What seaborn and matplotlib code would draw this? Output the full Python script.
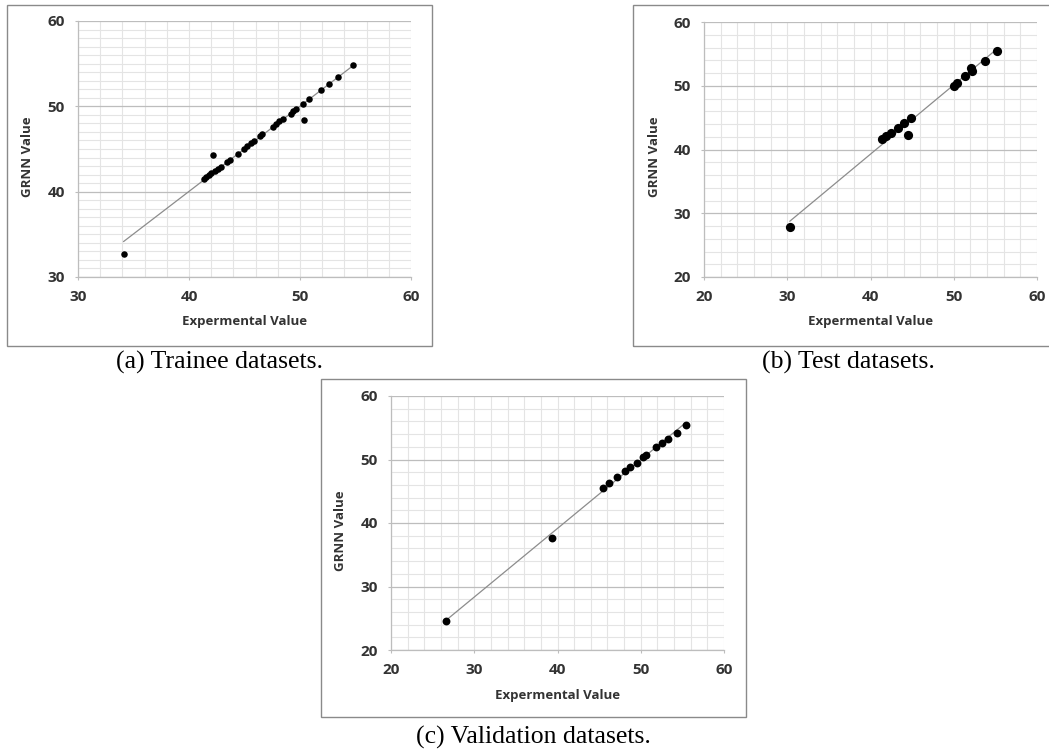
import numpy as np
import pandas as pd
import seaborn as sns
import matplotlib.pyplot as plt
from matplotlib.ticker import MultipleLocator
from matplotlib.patches import Rectangle

# values
train_exp = [34.1, 41.35, 41.53, 41.78, 42.0, 42.2, 42.37, 42.6, 42.86, 43.45, 43.7,
             44.4, 44.95, 45.2, 45.6, 45.86, 46.4, 46.6, 47.54, 47.84, 48.14, 48.44,
             49.2, 49.4, 49.6, 50.3, 50.33, 50.8, 51.9, 52.6, 53.4, 54.75]
train_grnn = [32.7, 41.5, 41.7, 41.95, 42.2, 44.26, 42.4, 42.65, 42.85, 43.5, 43.7,
              44.45, 45.0, 45.3, 45.66, 45.9, 46.5, 46.7, 47.6, 47.9, 48.25, 48.5,
              49.1, 49.4, 49.65, 50.3, 48.4, 50.9, 51.9, 52.6, 53.4, 54.8]

test_exp = [30.3, 41.4, 41.9, 42.5, 43.3, 44.06, 44.5, 44.9, 50.0, 50.4, 51.4, 52.1, 52.2, 53.8, 55.2]
test_grnn = [27.8, 41.7, 42.1, 42.6, 43.4, 44.1, 42.3, 44.9, 50.0, 50.5, 51.6, 52.8, 52.3, 53.9, 55.5]

val_exp = [26.6, 39.3, 45.5, 46.2, 47.2, 48.1, 48.7, 49.55, 50.3, 50.6, 51.8, 52.5, 53.3, 54.4, 55.4]
val_grnn = [24.6, 37.6, 45.5, 46.25, 47.3, 48.2, 48.8, 49.5, 50.4, 50.7, 51.9, 52.6, 53.3, 54.2, 55.5]

captions = ["(a) Trainee datasets.", "(b) Test datasets.", "(c) Validation datasets."]
x_label = "Expermental Value"
y_label = "GRNN Value"

sns.set_style("white")
plt.rcParams['font.family'] = ['Open Sans', 'DejaVu Sans']

W, H = 1049, 751
fig = plt.figure(figsize=(W / 100, H / 100), dpi=100)


def px_rect(x0, y0, x1, y1):
    # pixel box (top-left origin) -> figure fraction [left, bottom, width, height]
    return [x0 / W, 1 - y1 / H, (x1 - x0) / W, (y1 - y0) / H]


panels = [
    dict(x=train_exp, y=train_grnn, ax=(78, 21, 411, 277), lim=(30, 60), ymin=1, s=22,
         box=(7, 5, 432, 346), cap=(220, 369)),
    dict(x=test_exp, y=test_grnn, ax=(704, 22, 1037, 277), lim=(20, 60), ymin=2, s=44,
         box=(633, 5, 1065, 346), cap=(848, 369)),
    dict(x=val_exp, y=val_grnn, ax=(391, 396, 724, 650), lim=(20, 60), ymin=2, s=32,
         box=(321, 379, 746, 717), cap=(533, 744)),
]

for p, cap in zip(panels, captions):
    # frame around each chart, like the pasted Excel objects
    bx = px_rect(*p['box'])
    fig.add_artist(Rectangle((bx[0], bx[1]), bx[2], bx[3], transform=fig.transFigure,
                             fill=False, edgecolor='#8a8a8a', lw=1.0))

    ax = fig.add_axes(px_rect(*p['ax']))
    df = pd.DataFrame({'exp': p['x'], 'grnn': p['y']})
    sns.regplot(data=df, x='exp', y='grnn', ax=ax, ci=None, truncate=True,
                scatter_kws=dict(s=p['s'], color='black', alpha=1, linewidths=0, zorder=3),
                line_kws=dict(color='#8c8c8c', lw=0.9, zorder=2))

    lo, hi = p['lim']
    ax.set_xlim(lo, hi)
    ax.set_ylim(lo, hi)
    ax.xaxis.set_major_locator(MultipleLocator(10))
    ax.yaxis.set_major_locator(MultipleLocator(10))
    ax.xaxis.set_minor_locator(MultipleLocator(2))
    ax.yaxis.set_minor_locator(MultipleLocator(p['ymin']))

    ax.grid(which='minor', color='#e4e4e4', lw=0.8)
    ax.grid(which='major', axis='x', color='#e4e4e4', lw=0.8)
    ax.grid(which='major', axis='y', color='#bdbdbd', lw=0.9)
    ax.set_axisbelow(True)

    for side in ['top', 'right']:
        ax.spines[side].set_visible(False)
    for side in ['left', 'bottom']:
        ax.spines[side].set_color('#bdbdbd')
        ax.spines[side].set_linewidth(0.9)

    ax.tick_params(which='major', length=2.5, width=0.8, color='#bdbdbd', pad=7,
                   labelsize=11, labelcolor='#333333', bottom=True, left=True)
    ax.tick_params(which='minor', length=0)
    for t in ax.get_xticklabels() + ax.get_yticklabels():
        t.set_fontweight('bold')

    ax.set_xlabel(x_label, fontsize=9.5, fontweight='bold', color='#333333')
    ax.set_ylabel(y_label, fontsize=9.5, fontweight='bold', color='#333333')
    ax.xaxis.label.set_va('center')
    ax.yaxis.label.set_va('center')
    axw = p['ax'][2] - p['ax'][0]
    axh = p['ax'][3] - p['ax'][1]
    ax.xaxis.set_label_coords(0.5, -45 / axh)
    ax.yaxis.set_label_coords(-50 / axw, 0.47)

    fig.text(p['cap'][0] / W, 1 - p['cap'][1] / H, cap, ha='center', va='baseline',
             fontsize=18.5, family='Liberation Serif', color='black')

fig.savefig('out.png', dpi=100)
